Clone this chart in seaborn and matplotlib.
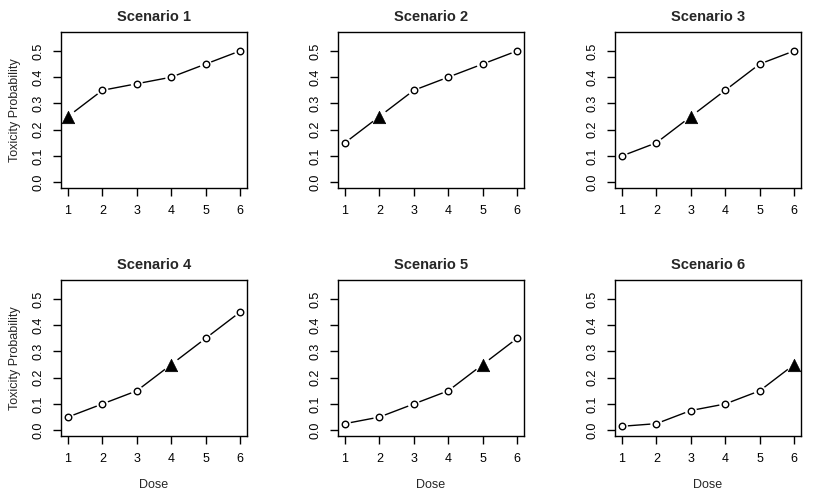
import numpy as np
import pandas as pd
import seaborn as sns
import matplotlib
matplotlib.use("Agg")
import matplotlib.pyplot as plt

doses = [1, 2, 3, 4, 5, 6]
scenario_titles = ["Scenario 1", "Scenario 2", "Scenario 3",
                   "Scenario 4", "Scenario 5", "Scenario 6"]
tox_s1 = [0.25, 0.35, 0.375, 0.40, 0.45, 0.50]
tox_s2 = [0.15, 0.25, 0.35, 0.40, 0.45, 0.50]
tox_s3 = [0.10, 0.15, 0.25, 0.35, 0.45, 0.50]
tox_s4 = [0.05, 0.10, 0.15, 0.25, 0.35, 0.45]
tox_s5 = [0.025, 0.05, 0.10, 0.15, 0.25, 0.35]
tox_s6 = [0.015, 0.025, 0.075, 0.10, 0.15, 0.25]
target_dose = [1, 2, 3, 4, 5, 6]
yticks = [0.0, 0.1, 0.2, 0.3, 0.4, 0.5]

all_tox = [tox_s1, tox_s2, tox_s3, tox_s4, tox_s5, tox_s6]

sns.set_style("white")
plt.rcParams['font.family'] = ['Liberation Sans', 'DejaVu Sans']

fig = plt.figure(figsize=(8.3, 4.98), dpi=100)
W, H = 830, 498
lefts = [61, 338, 615]
tops = [32, 280]
bw, bh = 186, 156

for i in range(6):
    r, c = divmod(i, 3)
    ax = fig.add_axes([lefts[c] / W, 1 - (tops[r] + bh) / H, bw / W, bh / H])
    df = pd.DataFrame({"Dose": doses, "Tox": all_tox[i]})
    is_target = df["Dose"] == target_dose[i]
    sns.lineplot(data=df, x="Dose", y="Tox", color="black", linewidth=1, ax=ax)
    # white halos to leave R-style gaps between line and points
    sns.scatterplot(data=df[~is_target], x="Dose", y="Tox", marker="o", s=75,
                    color="white", edgecolor="none", ax=ax, zorder=2.5)
    sns.scatterplot(data=df[is_target], x="Dose", y="Tox", marker="o", s=130,
                    color="white", edgecolor="none", ax=ax, zorder=2.5)
    sns.scatterplot(data=df[~is_target], x="Dose", y="Tox", marker="o", s=22,
                    facecolor="white", edgecolor="black", linewidth=1, ax=ax, zorder=3)
    sns.scatterplot(data=df[is_target], x="Dose", y="Tox", marker="^", s=80,
                    color="black", edgecolor="black", linewidth=0.5, ax=ax, zorder=4)
    ax.set_xlim(0.8, 6.2)
    ax.set_ylim(-0.022, 0.572)
    ax.set_xticks(doses)
    ax.set_yticks(yticks)
    ax.set_yticklabels([f"{v:.1f}" for v in yticks], rotation=90, va="center")
    ax.tick_params(direction="out", length=6, width=1, colors="black",
                   labelsize=9, pad=6, bottom=True, left=True)
    for s in ax.spines.values():
        s.set_color("black")
        s.set_linewidth(1)
        s.set_visible(True)
        s.set_zorder(5)
    ax.set_title(scenario_titles[i], fontsize=10.5, fontweight="bold", pad=8)
    ax.set_xlabel("Dose" if r == 1 else "", fontsize=9, labelpad=10)
    ax.set_ylabel("Toxicity Probability" if c == 0 else "", fontsize=9, labelpad=8)

plt.savefig("out.png", dpi=100)
